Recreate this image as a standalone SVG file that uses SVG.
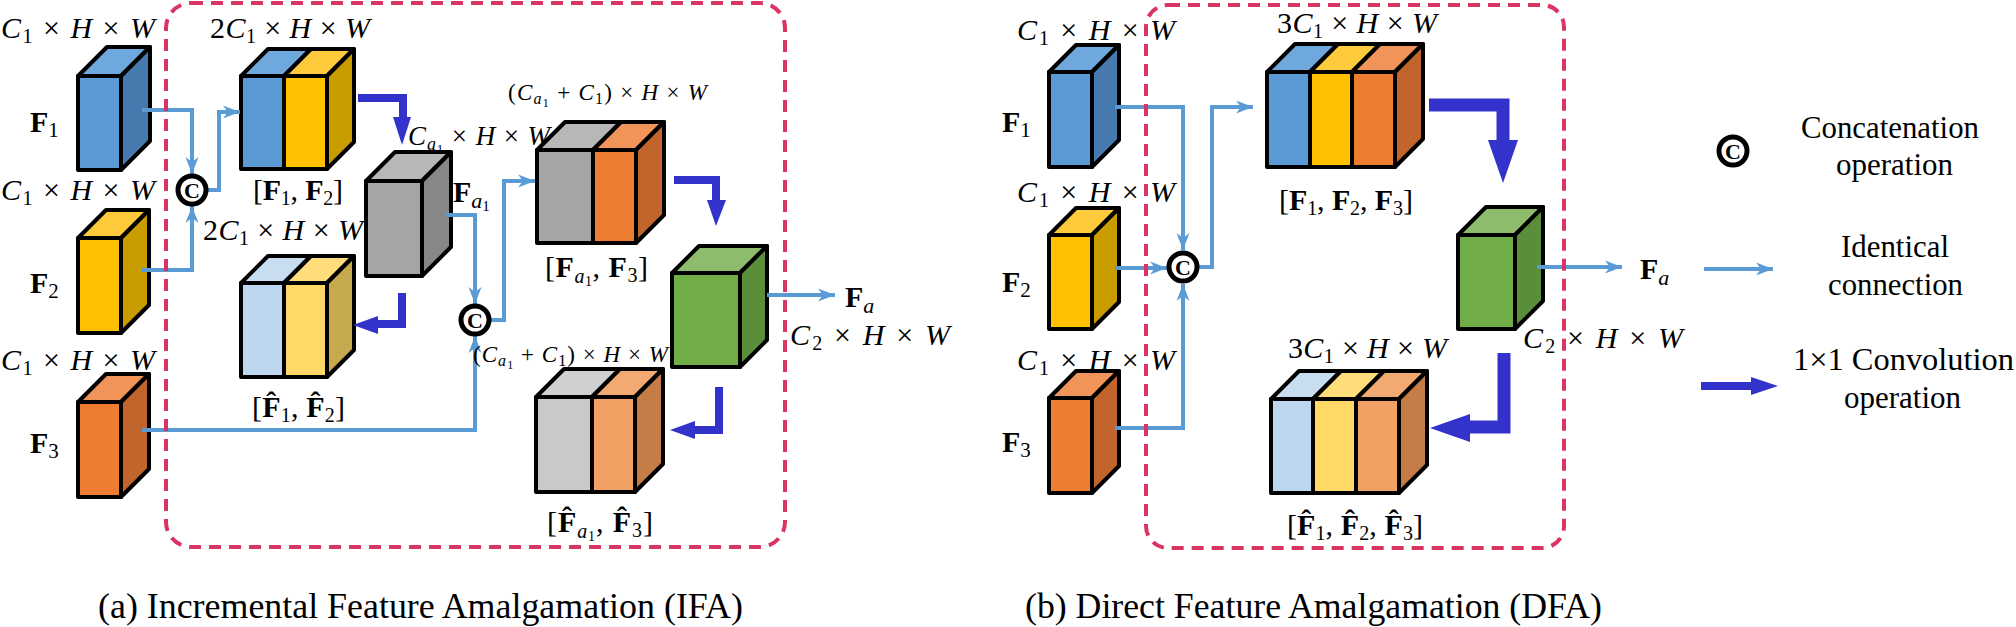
<svg xmlns="http://www.w3.org/2000/svg" width="2016" height="627" viewBox="0 0 2016 627">
<defs>
<style>
text{font-family:"Liberation Serif","Times New Roman",serif;fill:#000}
.m{font-size:30px}
.sm{font-size:23px}
.i{font-style:italic}
.b{font-weight:bold}
.cap{font-size:35px}
.leg{font-size:31px}
.o{stroke:#000;stroke-width:4;stroke-linejoin:round}
.bf{fill:#5B9BD5}.bt{fill:#6FA8DC}.bs{fill:#4679AD}
.yf{fill:#FFC000}.yt{fill:#FFCB3C}.ys{fill:#C99D00}
.of{fill:#ED7D31}.ot{fill:#F0945A}.os{fill:#C1652C}
.gf{fill:#A5A5A5}.gt{fill:#B7B7B7}.gs{fill:#878787}
.nf{fill:#70AD47}.nt{fill:#8DBD6C}.ns{fill:#5A8E3A}
.lbf{fill:#BDD7EE}.lbt{fill:#C8DDF0}
.lyf{fill:#FFD966}.lyt{fill:#FFDD7A}.lys{fill:#C8AA4E}
.lgf{fill:#C9C9C9}.lgt{fill:#D0D0D0}
.lof{fill:#F2A165}.lot{fill:#F3AA72}.los{fill:#C67C46}
.con{fill:none;stroke:#5B9BD5;stroke-width:4;marker-end:url(#ah)}
.cv{fill:none;stroke:#3333CC;stroke-width:8;stroke-linejoin:miter}
.cvh{fill:#3333CC}
.cc{fill:#fff;stroke:#000;stroke-width:5}
.ct{font-size:22px;font-weight:bold;text-anchor:middle}
.box{fill:none;stroke:#DA3462;stroke-width:4;stroke-dasharray:12 8}
</style>
<marker id="ah" markerUnits="userSpaceOnUse" markerWidth="20" markerHeight="16" viewBox="0 -8 18 16" refX="17" refY="0" orient="auto">
<path d="M0,-6.5 L17,0 L0,6.5 L5,0 z" fill="#5B9BD5"/>
</marker>
</defs>
<rect width="2016" height="627" fill="#fff"/>

<!-- IFA nodes -->
<g id="ifa-f1" class="o">
<rect class="bf" x="78" y="76" width="43" height="94"/>
<polygon class="bt" points="78,76 107,47 150,47 121,76"/>
<polygon class="bs" points="121,76 150,47 150,141 121,170"/>
</g>
<g id="ifa-f2" class="o">
<rect class="yf" x="78" y="238" width="43" height="95"/>
<polygon class="yt" points="78,238 106,210 149,210 121,238"/>
<polygon class="ys" points="121,238 149,210 149,305 121,333"/>
</g>
<g id="ifa-f3" class="o">
<rect class="of" x="78" y="402" width="43" height="95"/>
<polygon class="ot" points="78,402 106,374 149,374 121,402"/>
<polygon class="os" points="121,402 149,374 149,469 121,497"/>
</g>
<g id="ifa-f12" class="o">
<rect class="bf" x="241" y="76" width="43" height="93"/>
<rect class="yf" x="284" y="76" width="43" height="93"/>
<polygon class="bt" points="241,76 268,49 311,49 284,76"/>
<polygon class="yt" points="284,76 311,49 354,49 327,76"/>
<polygon class="ys" points="327,76 354,49 354,142 327,169"/>
</g>
<g id="ifa-fa1" class="o">
<rect class="gf" x="366" y="181" width="56" height="95"/>
<polygon class="gt" points="366,181 395,152 451,152 422,181"/>
<polygon class="gs" points="422,181 451,152 451,247 422,276"/>
</g>
<g id="ifa-hf12" class="o">
<rect class="lbf" x="241" y="283" width="43" height="94"/>
<rect class="lyf" x="284" y="283" width="43" height="94"/>
<polygon class="lbt" points="241,283 268,256 311,256 284,283"/>
<polygon class="lyt" points="284,283 311,256 354,256 327,283"/>
<polygon class="lys" points="327,283 354,256 354,350 327,377"/>
</g>
<g id="ifa-fa1f3" class="o">
<rect class="gf" x="537" y="150" width="56" height="93"/>
<rect class="of" x="593" y="150" width="43" height="93"/>
<polygon class="gt" points="537,150 565,122 621,122 593,150"/>
<polygon class="ot" points="593,150 621,122 664,122 636,150"/>
<polygon class="os" points="636,150 664,122 664,215 636,243"/>
</g>
<g id="ifa-fa" class="o">
<rect class="nf" x="672" y="273" width="68" height="94"/>
<polygon class="nt" points="672,273 699,246 767,246 740,273"/>
<polygon class="ns" points="740,273 767,246 767,340 740,367"/>
</g>
<g id="ifa-hfa1f3" class="o">
<rect class="lgf" x="536" y="397" width="56" height="95"/>
<rect class="lof" x="592" y="397" width="43" height="95"/>
<polygon class="lgt" points="536,397 564,369 620,369 592,397"/>
<polygon class="lot" points="592,397 620,369 663,369 635,397"/>
<polygon class="los" points="635,397 663,369 663,464 635,492"/>
</g>

<!-- DFA nodes -->
<g id="dfa-f1" class="o">
<rect class="bf" x="1049" y="72" width="43" height="95"/>
<polygon class="bt" points="1049,72 1076,45 1119,45 1092,72"/>
<polygon class="bs" points="1092,72 1119,45 1119,140 1092,167"/>
</g>
<g id="dfa-f2" class="o">
<rect class="yf" x="1049" y="235" width="43" height="94"/>
<polygon class="yt" points="1049,235 1076,208 1119,208 1092,235"/>
<polygon class="ys" points="1092,235 1119,208 1119,302 1092,329"/>
</g>
<g id="dfa-f3" class="o">
<rect class="of" x="1049" y="398" width="43" height="95"/>
<polygon class="ot" points="1049,398 1076,371 1119,371 1092,398"/>
<polygon class="os" points="1092,398 1119,371 1119,466 1092,493"/>
</g>
<g id="dfa-f123" class="o">
<rect class="bf" x="1267" y="72" width="43" height="95"/>
<rect class="yf" x="1310" y="72" width="42" height="95"/>
<rect class="of" x="1352" y="72" width="43" height="95"/>
<polygon class="bt" points="1267,72 1295,44 1338,44 1310,72"/>
<polygon class="yt" points="1310,72 1338,44 1380,44 1352,72"/>
<polygon class="ot" points="1352,72 1380,44 1423,44 1395,72"/>
<polygon class="os" points="1395,72 1423,44 1423,139 1395,167"/>
</g>
<g id="dfa-fa" class="o">
<rect class="nf" x="1458" y="235" width="57" height="94"/>
<polygon class="nt" points="1458,235 1486,207 1543,207 1515,235"/>
<polygon class="ns" points="1515,235 1543,207 1543,301 1515,329"/>
</g>
<g id="dfa-hf123" class="o">
<rect class="lbf" x="1271" y="399" width="42" height="94"/>
<rect class="lyf" x="1313" y="399" width="43" height="94"/>
<rect class="lof" x="1356" y="399" width="43" height="94"/>
<polygon class="lbt" points="1271,399 1299,371 1341,371 1313,399"/>
<polygon class="lyt" points="1313,399 1341,371 1384,371 1356,399"/>
<polygon class="lot" points="1356,399 1384,371 1427,371 1399,399"/>
<polygon class="los" points="1399,399 1427,371 1427,465 1399,493"/>
</g>

<!-- connectors -->
<g id="connectors">
<path class="con" d="M142,110 H192 V174"/>
<path class="con" d="M142,270 H192 V206"/>
<path class="con" d="M206,190 H219 V112 H240"/>
<path class="con" d="M446,215 H475 V304"/>
<path class="con" d="M490,320 H504 V181 H535"/>
<path class="con" d="M142,430 H475 V336"/>
<path class="con" d="M767,295 H835"/>
<path class="cv" d="M358,98 H403 V120"/>
<polygon class="cvh" points="393,117 411,117 402,145"/>
<path class="cv" d="M402,293 V324 H376"/>
<polygon class="cvh" points="378,316 378,334 353,325"/>
<path class="cv" d="M674,180 H716 V203"/>
<polygon class="cvh" points="707,200 726,200 716,226"/>
<path class="cv" d="M719,387 V430 H692"/>
<polygon class="cvh" points="695,421 695,439 670,430"/>
<path class="con" d="M1115,107 H1183 V250"/>
<path class="con" d="M1115,268 H1167"/>
<path class="con" d="M1115,428 H1183 V284"/>
<path class="con" d="M1198,267 H1212 V107 H1253"/>
<path class="con" d="M1537,267 H1622"/>
<path class="cv" style="stroke-width:13" d="M1429,105 H1503 V142"/>
<polygon class="cvh" points="1488,140 1518,140 1503,183"/>
<path class="cv" style="stroke-width:13" d="M1504,353 V427 H1466"/>
<polygon class="cvh" points="1470,414 1470,442 1430,428"/>
</g>

<!-- concat nodes -->
<g id="ifa-cat1"><circle class="cc" cx="192" cy="190" r="14"/><text class="ct" x="192" y="198">C</text></g>
<g id="ifa-cat2"><circle class="cc" cx="475" cy="320" r="14"/><text class="ct" x="475" y="328">C</text></g>
<g id="dfa-cat"><circle class="cc" cx="1183" cy="267" r="14"/><text class="ct" x="1183" y="275">C</text></g>

<!-- dashed boxes -->
<g id="ifa-box"><rect class="box" x="166" y="3" width="619" height="544" rx="25"/></g>
<g id="dfa-box"><rect class="box" x="1146" y="5" width="418" height="543" rx="22"/></g>

<!-- IFA labels -->
<g id="ifa-labels">
<text class="m" x="1" y="38" textLength="154" lengthAdjust="spacing"><tspan class="i">C</tspan><tspan font-size="20" dy="5">1</tspan><tspan dy="-5"> × </tspan><tspan class="i">H</tspan><tspan> × </tspan><tspan class="i">W</tspan></text>
<text class="m" x="1" y="200" textLength="154" lengthAdjust="spacing"><tspan class="i">C</tspan><tspan font-size="20" dy="5">1</tspan><tspan dy="-5"> × </tspan><tspan class="i">H</tspan><tspan> × </tspan><tspan class="i">W</tspan></text>
<text class="m" x="1" y="370" textLength="154" lengthAdjust="spacing"><tspan class="i">C</tspan><tspan font-size="20" dy="5">1</tspan><tspan dy="-5"> × </tspan><tspan class="i">H</tspan><tspan> × </tspan><tspan class="i">W</tspan></text>
<text x="30" y="132" font-size="30"><tspan class="b">F</tspan><tspan font-size="21" dy="5">1</tspan></text>
<text x="30" y="293" font-size="30"><tspan class="b">F</tspan><tspan font-size="21" dy="5">2</tspan></text>
<text x="30" y="453" font-size="30"><tspan class="b">F</tspan><tspan font-size="21" dy="5">3</tspan></text>
<text class="m" x="210" y="38" textLength="160" lengthAdjust="spacing"><tspan>2</tspan><tspan class="i">C</tspan><tspan font-size="20" dy="5">1</tspan><tspan dy="-5"> × </tspan><tspan class="i">H</tspan><tspan> × </tspan><tspan class="i">W</tspan></text>
<text class="m" x="253" y="200" textLength="90" lengthAdjust="spacing"><tspan>[</tspan><tspan class="b">F</tspan><tspan font-size="20" dy="5">1</tspan><tspan dy="-5">, </tspan><tspan class="b">F</tspan><tspan font-size="20" dy="5">2</tspan><tspan dy="-5">]</tspan></text>
<text class="m" x="203" y="240" textLength="160" lengthAdjust="spacing"><tspan>2</tspan><tspan class="i">C</tspan><tspan font-size="20" dy="5">1</tspan><tspan dy="-5"> × </tspan><tspan class="i">H</tspan><tspan> × </tspan><tspan class="i">W</tspan></text>
<text class="m" x="252" y="417" textLength="93" lengthAdjust="spacing"><tspan>[</tspan><tspan class="b">F̂</tspan><tspan font-size="20" dy="5">1</tspan><tspan dy="-5">, </tspan><tspan class="b">F̂</tspan><tspan font-size="20" dy="5">2</tspan><tspan dy="-5">]</tspan></text>
<text font-size="27" x="408" y="145" textLength="142" lengthAdjust="spacing"><tspan class="i">C</tspan><tspan class="i" font-size="18" dy="5">a</tspan><tspan font-size="13" dy="3">1</tspan><tspan dy="-8"> × </tspan><tspan class="i">H</tspan><tspan> × </tspan><tspan class="i">W</tspan></text>
<text x="453" y="202" font-size="30"><tspan class="b">F</tspan><tspan class="i" font-size="22" dy="6">a</tspan><tspan font-size="15" dy="3">1</tspan></text>
<text class="sm" x="508" y="100" textLength="199" lengthAdjust="spacing"><tspan>(</tspan><tspan class="i">C</tspan><tspan class="i" font-size="16" dy="4">a</tspan><tspan font-size="12" dy="3">1</tspan><tspan dy="-7"> + </tspan><tspan class="i">C</tspan><tspan font-size="16" dy="4">1</tspan><tspan dy="-4">) × </tspan><tspan class="i">H</tspan><tspan> × </tspan><tspan class="i">W</tspan></text>
<text class="m" x="545" y="277" textLength="103" lengthAdjust="spacing"><tspan>[</tspan><tspan class="b">F</tspan><tspan class="i" font-size="20" dy="6">a</tspan><tspan font-size="14" dy="3">1</tspan><tspan dy="-9">, </tspan><tspan class="b">F</tspan><tspan font-size="20" dy="5">3</tspan><tspan dy="-5">]</tspan></text>
<text x="845" y="307" font-size="30"><tspan class="b">F</tspan><tspan class="i" font-size="22" dy="6">a</tspan></text>
<text class="m" x="790" y="345" textLength="160" lengthAdjust="spacing"><tspan class="i">C</tspan><tspan font-size="20" dy="5">2</tspan><tspan dy="-5"> × </tspan><tspan class="i">H</tspan><tspan> × </tspan><tspan class="i">W</tspan></text>
<text class="sm" x="473" y="362" textLength="195" lengthAdjust="spacing"><tspan>(</tspan><tspan class="i">C</tspan><tspan class="i" font-size="16" dy="4">a</tspan><tspan font-size="12" dy="3">1</tspan><tspan dy="-7"> + </tspan><tspan class="i">C</tspan><tspan font-size="16" dy="4">1</tspan><tspan dy="-4">) × </tspan><tspan class="i">H</tspan><tspan> × </tspan><tspan class="i">W</tspan></text>
<text class="m" x="547" y="532" textLength="106" lengthAdjust="spacing"><tspan>[</tspan><tspan class="b">F̂</tspan><tspan class="i" font-size="20" dy="6">a</tspan><tspan font-size="14" dy="3">1</tspan><tspan dy="-9">, </tspan><tspan class="b">F̂</tspan><tspan font-size="20" dy="5">3</tspan><tspan dy="-5">]</tspan></text>
<text class="cap" x="98" y="618" textLength="645" lengthAdjust="spacingAndGlyphs">(a) Incremental Feature Amalgamation (IFA)</text>
</g>

<!-- DFA labels -->
<g id="dfa-labels">
<text class="m" x="1017" y="40" textLength="158" lengthAdjust="spacing"><tspan class="i">C</tspan><tspan font-size="20" dy="5">1</tspan><tspan dy="-5"> × </tspan><tspan class="i">H</tspan><tspan> × </tspan><tspan class="i">W</tspan></text>
<text class="m" x="1017" y="202" textLength="158" lengthAdjust="spacing"><tspan class="i">C</tspan><tspan font-size="20" dy="5">1</tspan><tspan dy="-5"> × </tspan><tspan class="i">H</tspan><tspan> × </tspan><tspan class="i">W</tspan></text>
<text class="m" x="1017" y="370" textLength="158" lengthAdjust="spacing"><tspan class="i">C</tspan><tspan font-size="20" dy="5">1</tspan><tspan dy="-5"> × </tspan><tspan class="i">H</tspan><tspan> × </tspan><tspan class="i">W</tspan></text>
<text x="1002" y="132" font-size="30"><tspan class="b">F</tspan><tspan font-size="21" dy="5">1</tspan></text>
<text x="1002" y="292" font-size="30"><tspan class="b">F</tspan><tspan font-size="21" dy="5">2</tspan></text>
<text x="1002" y="452" font-size="30"><tspan class="b">F</tspan><tspan font-size="21" dy="5">3</tspan></text>
<text class="m" x="1277" y="33" textLength="160" lengthAdjust="spacing"><tspan>3</tspan><tspan class="i">C</tspan><tspan font-size="20" dy="5">1</tspan><tspan dy="-5"> × </tspan><tspan class="i">H</tspan><tspan> × </tspan><tspan class="i">W</tspan></text>
<text class="m" x="1279" y="210" textLength="134" lengthAdjust="spacing"><tspan>[</tspan><tspan class="b">F</tspan><tspan font-size="20" dy="5">1</tspan><tspan dy="-5">, </tspan><tspan class="b">F</tspan><tspan font-size="20" dy="5">2</tspan><tspan dy="-5">, </tspan><tspan class="b">F</tspan><tspan font-size="20" dy="5">3</tspan><tspan dy="-5">]</tspan></text>
<text x="1640" y="279" font-size="30"><tspan class="b">F</tspan><tspan class="i" font-size="22" dy="6">a</tspan></text>
<text class="m" x="1523" y="348" textLength="160" lengthAdjust="spacing"><tspan class="i">C</tspan><tspan font-size="20" dy="5">2</tspan><tspan dy="-5"> × </tspan><tspan class="i">H</tspan><tspan> × </tspan><tspan class="i">W</tspan></text>
<text class="m" x="1288" y="358" textLength="159" lengthAdjust="spacing"><tspan>3</tspan><tspan class="i">C</tspan><tspan font-size="20" dy="5">1</tspan><tspan dy="-5"> × </tspan><tspan class="i">H</tspan><tspan> × </tspan><tspan class="i">W</tspan></text>
<text class="m" x="1287" y="535" textLength="136" lengthAdjust="spacing"><tspan>[</tspan><tspan class="b">F̂</tspan><tspan font-size="20" dy="5">1</tspan><tspan dy="-5">, </tspan><tspan class="b">F̂</tspan><tspan font-size="20" dy="5">2</tspan><tspan dy="-5">, </tspan><tspan class="b">F̂</tspan><tspan font-size="20" dy="5">3</tspan><tspan dy="-5">]</tspan></text>
<text class="cap" x="1025" y="618" textLength="577" lengthAdjust="spacingAndGlyphs">(b) Direct Feature Amalgamation (DFA)</text>
</g>

<!-- legend -->
<g id="legend-concat"><circle class="cc" cx="1733" cy="151" r="14"/><text class="ct" x="1733" y="159">C</text>
<text class="leg" x="1801" y="138" textLength="178" lengthAdjust="spacingAndGlyphs">Concatenation</text><text class="leg" x="1836" y="175" textLength="117" lengthAdjust="spacingAndGlyphs">operation</text></g>
<g id="legend-identical"><path class="con" d="M1704,269 H1773"/>
<text class="leg" x="1841" y="257" textLength="108" lengthAdjust="spacingAndGlyphs">Identical</text><text class="leg" x="1828" y="295" textLength="135" lengthAdjust="spacingAndGlyphs">connection</text></g>
<g id="legend-conv"><path class="cv" d="M1701,386 H1753"/><polygon class="cvh" points="1751,377 1751,395 1778,386"/>
<text class="leg" x="1793" y="370" textLength="221" lengthAdjust="spacingAndGlyphs">1×1 Convolution</text><text class="leg" x="1844" y="408" textLength="117" lengthAdjust="spacingAndGlyphs">operation</text></g>
</svg>
